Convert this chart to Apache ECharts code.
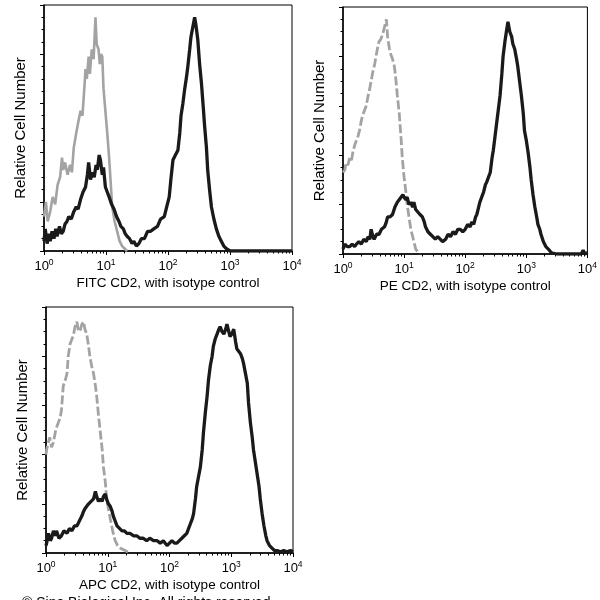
<!DOCTYPE html>
<html>
<head>
<meta charset="utf-8">
<script src="https://cdn.jsdelivr.net/npm/echarts@6/dist/echarts.min.js"></script>
<style>html,body{margin:0;padding:0;background:#fff}#c{width:600px;height:600px}</style>
</head>
<body>
<div id="c"></div>
<script>
// x values are log10 of fluorescence intensity (axis labelled 10^0 .. 10^4); y = relative cell number (0-100)
const xTickExponents = [0, 1, 2, 3, 4];
const panelTitles = ['FITC CD2, with isotype control', 'PE CD2, with isotype control', 'APC CD2, with isotype control'];
const yAxisTitle = 'Relative Cell Number';
const footerText = '\u00a9 Sino Biological Inc. All rights reserved.';

const fitcIsotype = [[0.00,14],[0.03,20],[0.06,12],[0.10,16],[0.14,22],[0.18,19],[0.22,27],[0.26,30],[0.29,38],[0.31,33],[0.34,36],[0.38,31],[0.42,35],[0.45,32],[0.48,42],[0.52,48],[0.55,52],[0.59,57],[0.62,55],[0.65,66],[0.67,74],[0.69,70],[0.72,79],[0.74,72],[0.77,82],[0.80,78],[0.83,95],[0.85,84],[0.88,82],[0.90,76],[0.92,80],[0.94,79],[0.96,66],[0.99,57],[1.02,48],[1.05,38],[1.08,26],[1.10,18],[1.14,12],[1.18,8],[1.22,4],[1.26,2],[1.30,1],[1.34,0]];
const fitcCD2 = [[0.00,4],[0.02,9],[0.05,3],[0.08,7],[0.10,4],[0.13,8],[0.16,5],[0.19,9],[0.21,6],[0.25,10],[0.28,7],[0.31,8],[0.34,11],[0.37,12],[0.40,14],[0.44,13],[0.48,16],[0.52,18],[0.55,17],[0.59,21],[0.63,24],[0.67,26],[0.70,31],[0.72,36],[0.75,29],[0.78,32],[0.81,30],[0.84,35],[0.86,33],[0.89,39],[0.91,37],[0.94,31],[0.96,34],[0.99,26],[1.02,24],[1.05,22],[1.09,19],[1.13,17],[1.17,14],[1.21,12],[1.24,10],[1.28,9],[1.31,7],[1.34,6],[1.38,5],[1.42,3],[1.45,4],[1.49,2],[1.53,3],[1.57,5],[1.62,5],[1.67,8],[1.72,8],[1.77,9],[1.83,10],[1.88,13],[1.94,14],[1.98,18],[2.02,22],[2.05,30],[2.08,37],[2.12,39],[2.16,41],[2.19,48],[2.21,55],[2.24,60],[2.27,66],[2.30,71],[2.32,75],[2.35,82],[2.37,87],[2.40,91],[2.43,95],[2.45,92],[2.48,86],[2.51,76],[2.54,68],[2.57,58],[2.59,51],[2.62,42],[2.64,33],[2.67,25],[2.70,18],[2.74,13],[2.78,9],[2.82,6],[2.86,4],[2.90,2],[2.94,1],[2.97,0.5],[3.00,0],[4.00,0]];

const peIsotype = [[0.00,33],[0.03,34],[0.05,37],[0.08,36],[0.11,39],[0.14,38],[0.16,41],[0.19,44],[0.22,46],[0.25,48],[0.27,50],[0.30,54],[0.32,56],[0.35,58],[0.38,60],[0.41,64],[0.43,66],[0.46,70],[0.49,74],[0.52,77],[0.54,80],[0.57,84],[0.59,86],[0.62,87],[0.65,89],[0.68,92],[0.71,95],[0.73,88],[0.76,83],[0.78,81],[0.81,79],[0.84,76],[0.86,72],[0.89,64],[0.92,57],[0.95,47],[0.97,39],[1.00,31],[1.03,25],[1.05,20],[1.08,15],[1.11,10],[1.14,7],[1.17,4],[1.19,2],[1.22,1],[1.25,0]];
const peCD2 = [[0.00,2],[0.03,4],[0.07,3],[0.11,3],[0.15,4],[0.19,3],[0.22,4],[0.26,5],[0.30,4],[0.34,6],[0.38,5],[0.41,7],[0.44,6],[0.46,10],[0.49,7],[0.51,6],[0.55,8],[0.59,8],[0.63,10],[0.68,11],[0.71,13],[0.73,15],[0.77,15],[0.81,16],[0.85,19],[0.89,21],[0.92,22],[0.95,22],[0.98,24],[1.00,23],[1.03,22],[1.05,23],[1.08,20],[1.11,21],[1.14,19],[1.16,21],[1.19,18],[1.22,18],[1.26,16],[1.30,15],[1.33,13],[1.35,11],[1.39,9],[1.43,8],[1.47,7],[1.51,6],[1.55,7],[1.59,6],[1.63,5],[1.68,6],[1.72,8],[1.76,7],[1.80,9],[1.84,8],[1.88,10],[1.92,10],[1.96,9],[2.00,10],[2.04,12],[2.08,11],[2.11,13],[2.14,12],[2.17,15],[2.19,16],[2.22,19],[2.24,21],[2.27,23],[2.30,25],[2.33,28],[2.35,29],[2.38,31],[2.41,33],[2.44,39],[2.46,42],[2.49,48],[2.51,52],[2.54,58],[2.57,64],[2.60,73],[2.62,80],[2.65,86],[2.68,91],[2.70,94],[2.73,90],[2.76,88],[2.78,85],[2.81,83],[2.84,79],[2.86,76],[2.89,70],[2.92,64],[2.95,57],[2.97,50],[3.00,46],[3.03,41],[3.06,35],[3.08,30],[3.11,24],[3.14,19],[3.17,15],[3.19,12],[3.22,10],[3.24,8],[3.28,5],[3.32,3],[3.36,2],[3.41,0.5],[3.50,0],[3.90,0],[3.93,1.5],[3.96,0],[4.00,0.5]];

const apcIsotype = [[0.00,40],[0.01,42],[0.04,45],[0.06,47],[0.09,43],[0.12,45],[0.15,49],[0.17,51],[0.20,53],[0.23,55],[0.25,58],[0.28,68],[0.31,70],[0.34,73],[0.36,80],[0.39,85],[0.42,87],[0.44,88],[0.47,92],[0.50,94],[0.52,91],[0.55,90],[0.58,93],[0.61,94],[0.63,91],[0.66,89],[0.69,84],[0.71,80],[0.74,76],[0.77,73],[0.80,68],[0.82,64],[0.85,56],[0.88,49],[0.91,42],[0.93,35],[0.96,29],[0.98,23],[1.01,18],[1.04,14],[1.08,9],[1.12,5],[1.16,3],[1.20,2],[1.28,1],[1.36,0]];
const apcCD2 = [[0.00,3],[0.01,4],[0.04,8],[0.07,5],[0.09,6],[0.12,9],[0.15,7],[0.17,9],[0.21,6],[0.25,7],[0.29,9],[0.34,8],[0.38,10],[0.42,9],[0.46,11],[0.50,11],[0.54,13],[0.58,15],[0.61,17],[0.63,18],[0.66,19],[0.69,20],[0.73,21],[0.77,22],[0.80,25],[0.82,23],[0.85,21],[0.88,22],[0.91,21],[0.93,23],[0.96,24],[0.98,22],[1.01,20],[1.04,19],[1.07,17],[1.09,15],[1.12,13],[1.15,11],[1.19,10],[1.23,9],[1.27,9],[1.31,8],[1.36,8],[1.42,7],[1.47,7],[1.52,6],[1.57,6],[1.63,5],[1.68,6],[1.74,5],[1.80,5],[1.85,4],[1.90,5],[1.96,3],[2.00,4],[2.04,5],[2.08,4],[2.12,4],[2.16,5],[2.20,6],[2.24,7],[2.28,8],[2.31,10],[2.34,12],[2.37,14],[2.39,16],[2.42,22],[2.44,27],[2.47,31],[2.50,35],[2.53,42],[2.55,49],[2.58,57],[2.61,64],[2.63,70],[2.66,76],[2.69,80],[2.71,84],[2.74,87],[2.77,89],[2.80,91],[2.82,92],[2.85,90],[2.88,89],[2.91,91],[2.93,93],[2.96,90],[2.98,88],[3.01,89],[3.04,91],[3.07,86],[3.09,83],[3.12,82],[3.15,81],[3.18,79],[3.20,77],[3.23,73],[3.26,69],[3.28,61],[3.31,53],[3.34,47],[3.36,42],[3.39,37],[3.42,32],[3.45,27],[3.47,22],[3.50,16],[3.53,11],[3.56,7],[3.58,5],[3.62,3],[3.66,2],[3.70,1],[3.74,1],[3.80,0.5],[3.85,1],[3.90,0.5],[3.96,1],[4.00,0.5]];

const panels = [
  { grid: { left: 44, top: 5, width: 248, height: 246 }, iso: fitcIsotype, cd2: fitcCD2, dashed: false },
  { grid: { left: 343, top: 7, width: 247, height: 247 }, iso: peIsotype, cd2: peCD2, dashed: true },
  { grid: { left: 46, top: 307, width: 247, height: 246 }, iso: apcIsotype, cd2: apcCD2, dashed: true }
];

// minor log ticks (2..9 within each decade) -- axis styling only
const minorLogTicks = [];
for (let d = 0; d < 4; d++) for (let k = 2; k <= 9; k++) minorLogTicks.push(d + Math.log10(k));

const FONT = '"Liberation Sans", Arial, Helvetica, sans-serif';
const grids = [], xAxes = [], yAxes = [], series = [];
panels.forEach((p, i) => {
  grids.push(Object.assign({ show: true, borderColor: '#000', borderWidth: 1, backgroundColor: 'transparent' }, p.grid));
  xAxes.push({
    type: 'value', gridIndex: i, min: 0, max: 4, interval: 1,
    name: panelTitles[i], nameLocation: 'middle', nameGap: 25,
    nameTextStyle: { fontFamily: FONT, fontSize: 13.5, color: '#000' },
    axisLine: { show: true, lineStyle: { color: '#000', width: 1.5 } },
    axisTick: { show: true, length: 4, lineStyle: { color: '#000', width: 1 } },
    splitLine: { show: false },
    axisLabel: {
      margin: 7, color: '#000', fontFamily: FONT,
      formatter: v => '{b|10}{s|' + xTickExponents[Math.round(v)] + '}',
      rich: { b: { fontSize: 13, fontFamily: FONT, color: '#000' }, s: { fontSize: 8.5, fontFamily: FONT, color: '#000', verticalAlign: 'top', padding: [0, 0, 7, 0] } }
    }
  });
  xAxes.push({
    type: 'value', gridIndex: i, min: 0, max: 4, position: 'bottom',
    axisLine: { show: false }, axisLabel: { show: false }, splitLine: { show: false },
    axisTick: { show: true, length: 2.5, customValues: minorLogTicks, lineStyle: { color: '#000', width: 1 } }
  });
  yAxes.push({
    type: 'value', gridIndex: i, min: 0, max: 100, interval: 20,
    name: yAxisTitle, nameLocation: 'middle', nameRotate: 90, nameGap: 16,
    nameTextStyle: { fontFamily: FONT, fontSize: 15, color: '#000' },
    axisLine: { show: true, lineStyle: { color: '#000', width: 1.5 } },
    axisTick: { show: true, length: 4, lineStyle: { color: '#000', width: 1 } },
    minorTick: { show: true, splitNumber: 4, length: 2.5, lineStyle: { color: '#000', width: 1 } },
    axisLabel: { show: false }, splitLine: { show: false }
  });
  series.push({
    type: 'line', xAxisIndex: 2 * i, yAxisIndex: i, data: p.iso, showSymbol: false, silent: true,
    lineStyle: { color: '#a3a3a3', width: p.dashed ? 2.8 : 2.6, type: p.dashed ? [9, 3] : 'solid' }, z: 2
  });
  series.push({
    type: 'line', xAxisIndex: 2 * i, yAxisIndex: i, data: p.cd2, showSymbol: false, silent: true,
    lineStyle: { color: '#1a1a1a', width: 3.3 }, z: 3
  });
});

const chart = echarts.init(document.getElementById('c'), null, { renderer: 'canvas' });
chart.setOption({
  animation: false,
  backgroundColor: '#fff',
  grid: grids, xAxis: xAxes, yAxis: yAxes, series: series,
  graphic: [{ type: 'text', left: 22, top: 596, style: { text: footerText, fontFamily: FONT, fontSize: 14, fill: '#000' } }]
});
</script>
</body>
</html>
